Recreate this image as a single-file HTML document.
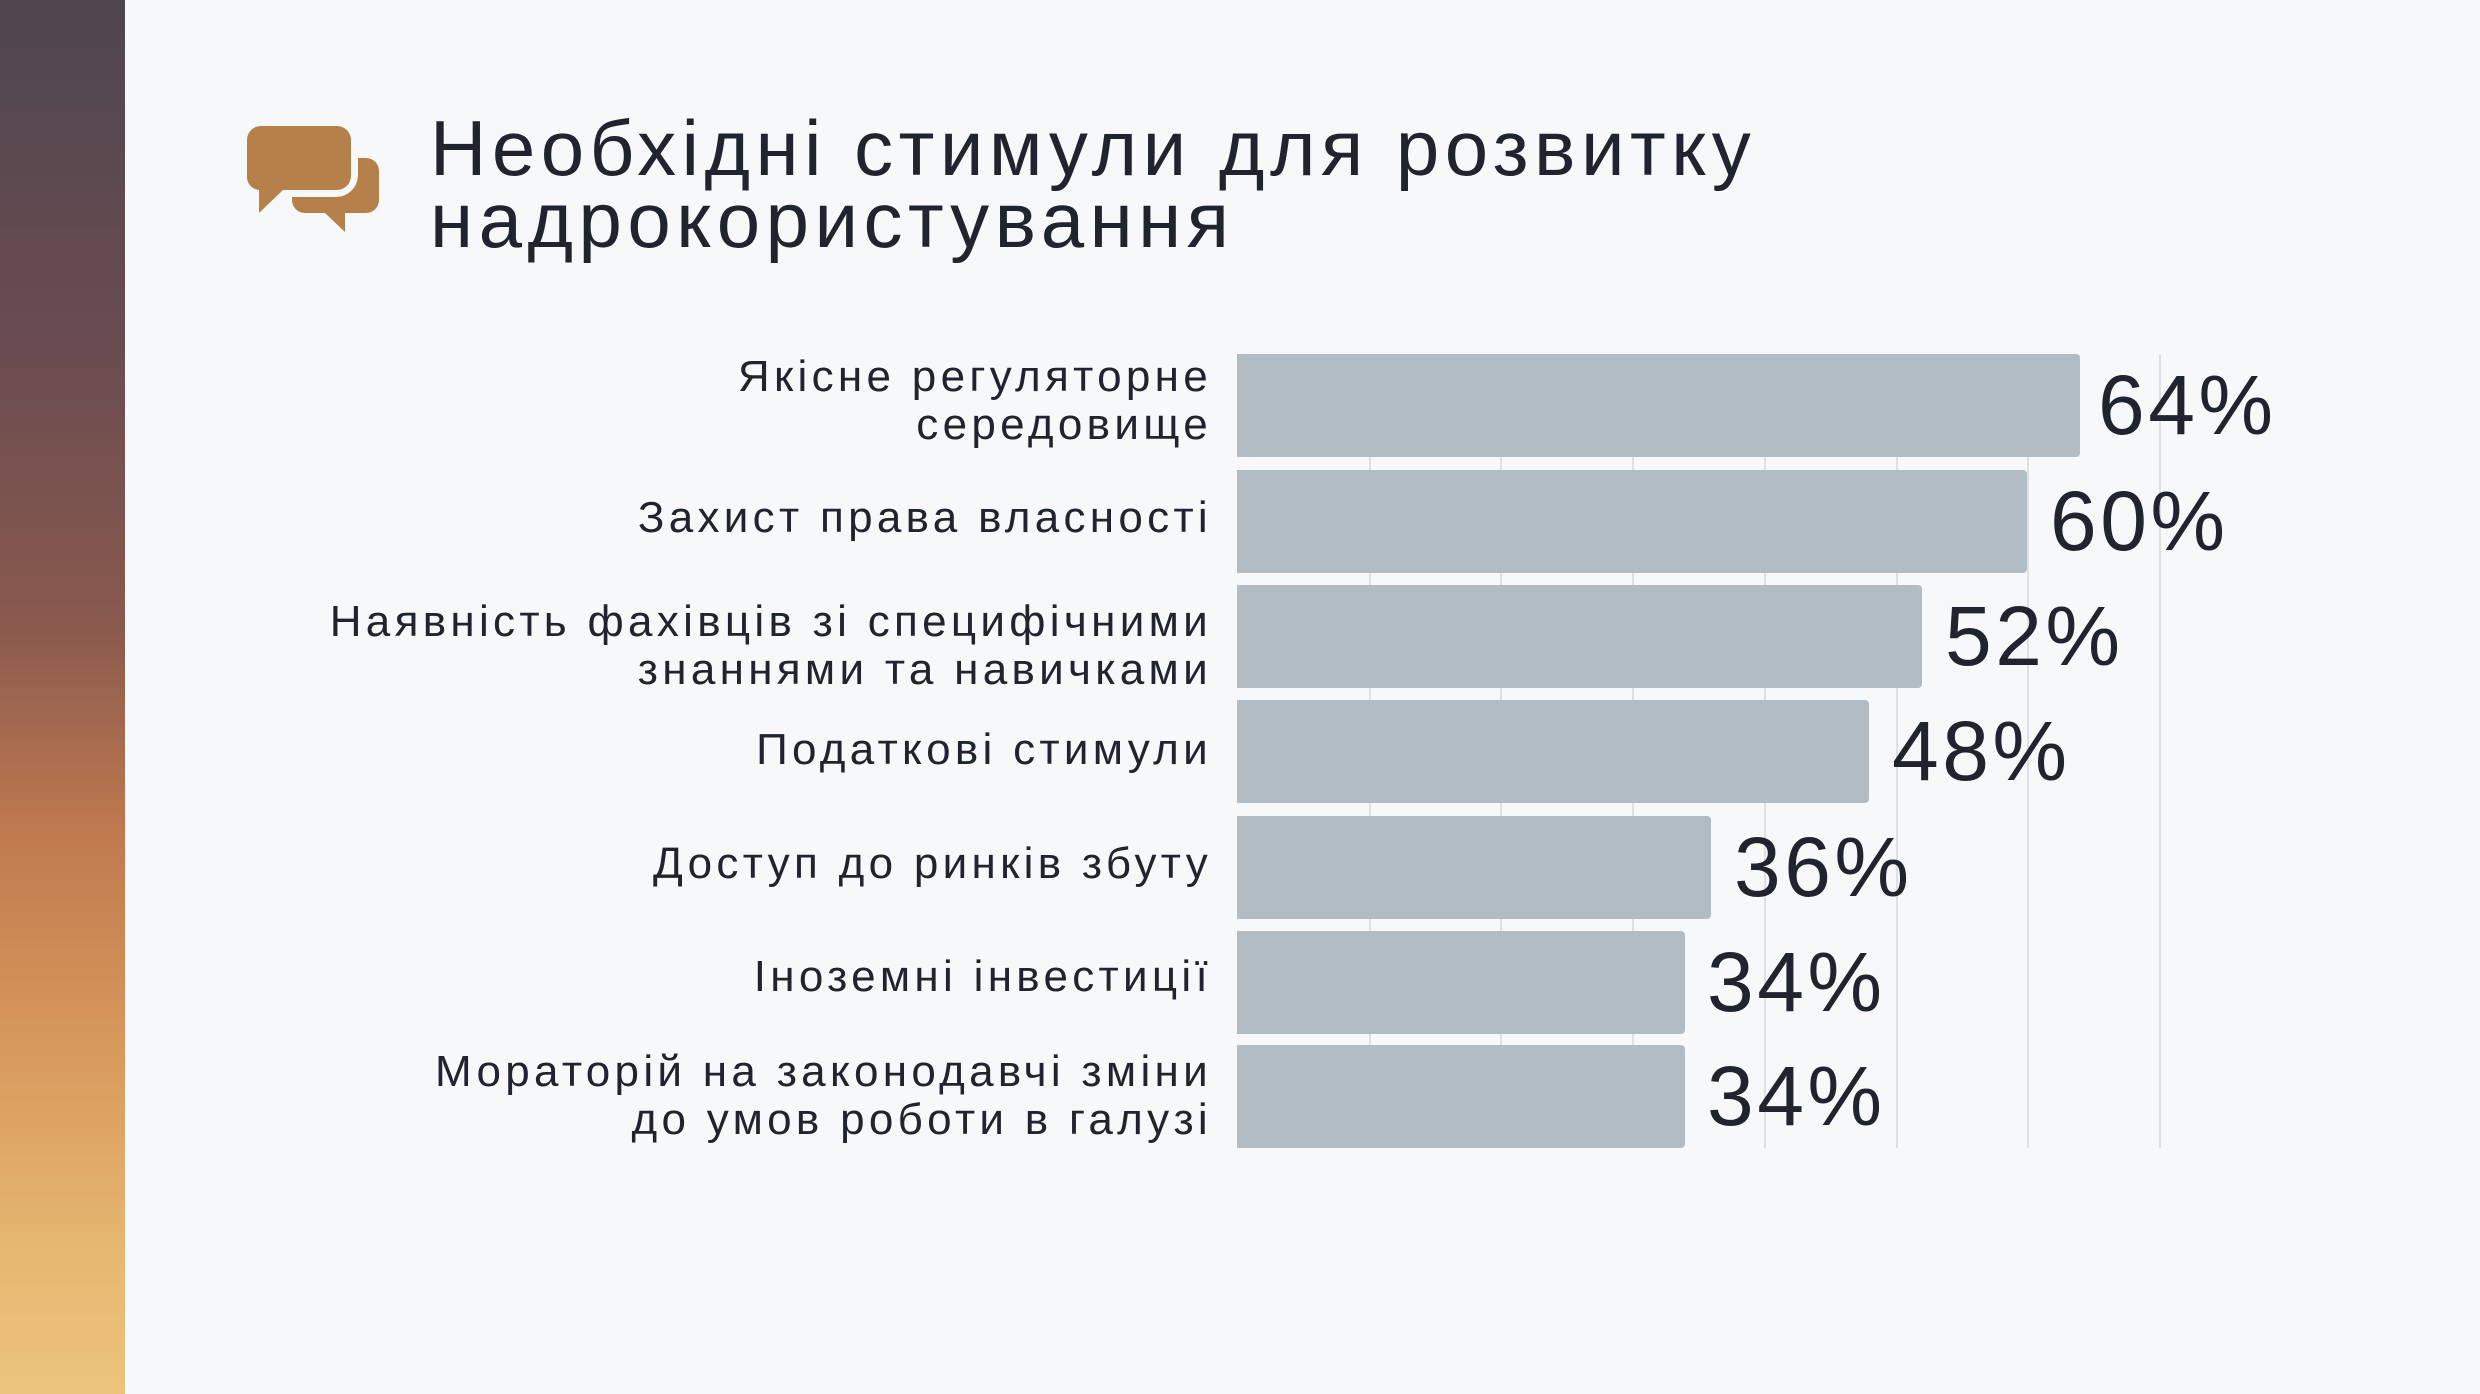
<!DOCTYPE html>
<html><head><meta charset="utf-8"><style>
body{margin:0;width:2480px;height:1394px;overflow:hidden;background:#f7f8fa;font-family:"Liberation Sans","DejaVu Sans",sans-serif;color:#20242e;position:relative}
.strip{position:absolute;left:0;top:0;width:125px;height:1394px;background:linear-gradient(180deg,#4f4650 0%,#6a4c50 25%,#8a5a4e 45%,#c07a4e 60%,#d8995c 75%,#e6b870 90%,#ecc47c 100%)}
.title{position:absolute;left:430px;top:112px;font-size:78px;line-height:72px;letter-spacing:5.5px}
.lab{position:absolute;right:1268px;text-align:right;font-size:44px;line-height:48px;letter-spacing:4.3px}
.bar{position:absolute;left:1237px;height:103px;background:#b1bcc4;border-radius:0 4px 4px 0}
.val{position:absolute;font-size:84px;line-height:80px;letter-spacing:3.5px}
.grid{position:absolute;top:354px;height:794px;width:2px;background:#dde1e5}
</style></head><body>
<div class="strip"></div>
<svg style="position:absolute;left:0;top:0" width="500" height="300">
<path d="M262 126h75a14 14 0 0 1 14 14v36a14 14 0 0 1-14 14h-54l-24 23v-23a13 13 0 0 1-12-14v-36a14 14 0 0 1 15-14z" fill="#b5804a"/>
<path d="M358 158h8a13 13 0 0 1 13 13v29a13 13 0 0 1-13 13h-21v19l-20-19h-20a13 13 0 0 1-13-13v-3h44a22 22 0 0 0 22-22z" fill="#b5804a"/>
</svg>
<div class="title">Необхідні стимули для розвитку<br>надрокористування</div>
<div class="grid" style="left:1369px"></div><div class="grid" style="left:1500px"></div><div class="grid" style="left:1632px"></div><div class="grid" style="left:1764px"></div><div class="grid" style="left:1896px"></div><div class="grid" style="left:2027px"></div><div class="grid" style="left:2159px"></div>
<div class="bar" style="top:354px;width:843px"></div><div class="val" style="top:365px;left:2098px">64%</div>
<div class="bar" style="top:470px;width:790px"></div><div class="val" style="top:481px;left:2050px">60%</div>
<div class="bar" style="top:585px;width:685px"></div><div class="val" style="top:596px;left:1945px">52%</div>
<div class="bar" style="top:700px;width:632px"></div><div class="val" style="top:711px;left:1892px">48%</div>
<div class="bar" style="top:816px;width:474px"></div><div class="val" style="top:827px;left:1734px">36%</div>
<div class="bar" style="top:931px;width:448px"></div><div class="val" style="top:942px;left:1707px">34%</div>
<div class="bar" style="top:1045px;width:448px"></div><div class="val" style="top:1056px;left:1707px">34%</div>
<div class="lab" style="top:353px">Якісне регуляторне<br>середовище</div>
<div class="lab" style="top:494px">Захист права власності</div>
<div class="lab" style="top:598px">Наявність фахівців зі специфічними<br>знаннями та навичками</div>
<div class="lab" style="top:726px">Податкові стимули</div>
<div class="lab" style="top:840px">Доступ до ринків збуту</div>
<div class="lab" style="top:953px">Іноземні інвестиції</div>
<div class="lab" style="top:1048px">Мораторій на законодавчі зміни<br>до умов роботи в галузі</div>
</body></html>
